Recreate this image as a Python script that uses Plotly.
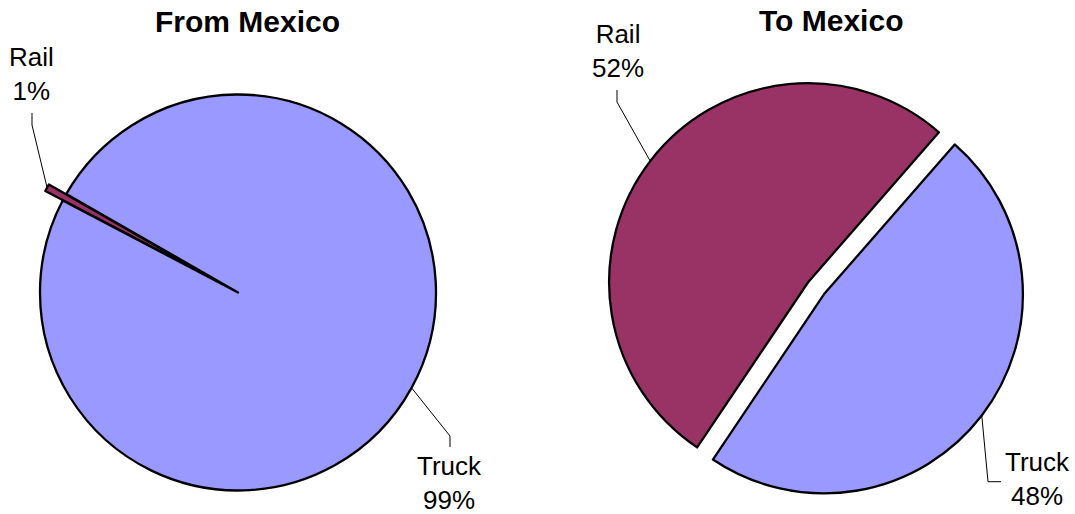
import math
import plotly.graph_objects as go

# ---- data ----
categories = ["Rail", "Truck"]
from_mexico = [0.6, 99.4]      # percent share
to_mexico = [52, 48]           # percent share
titles = ["From Mexico", "To Mexico"]

# ---- styling / layout constants ----
COLORS = ["#993366", "#9999FF"]
W, H = 1075, 514
FONT = "Liberation Sans, Arial, sans-serif"

PIES = [
    dict(values=from_mexico, title=titles[0], cx=238, cy=292.5, r=198,
         rotation=297.7, pull=[0.10, 0.0], title_xy=(247, 22),
         labels=[dict(text_xy=(31.5, 74), elbow=(32, 125), end=(32, 113)),
                 dict(text_xy=(449, 482.5), elbow=(450, 436), end=(450, 447))]),
    dict(values=to_mexico, title=titles[1], cx=816, cy=288.3, r=199,
         rotation=213.9, pull=[0.05, 0.05], title_xy=(830.5, 21),
         labels=[dict(text_xy=(617.5, 51), elbow=(617, 102), end=(617, 90)),
                 dict(text_xy=(1037.5, 479), elbow=(988, 481.7), end=(1001, 481.7))]),
]


def px2paper(x, y):
    return x / W, 1 - y / H


fig = go.Figure()
shapes = []
annotations = []

for p in PIES:
    vals = p["values"]
    total = sum(vals)
    maxpull = max(p["pull"])
    half = p["r"] * (1 + maxpull)
    x0, y1 = px2paper(p["cx"] - half, p["cy"] - half)
    x1, y0 = px2paper(p["cx"] + half, p["cy"] + half)
    fig.add_trace(go.Pie(
        labels=categories, values=vals, sort=False, direction="clockwise",
        rotation=p["rotation"], pull=p["pull"],
        marker=dict(colors=COLORS, line=dict(color="black", width=2.3)),
        textinfo="none", hoverinfo="label+percent", showlegend=False,
        domain=dict(x=[x0, x1], y=[y0, y1]),
    ))

    # title
    tx, ty = px2paper(*p["title_xy"])
    annotations.append(dict(x=tx, y=ty, xref="paper", yref="paper",
                            text=f"<b>{p['title']}</b>", showarrow=False,
                            xanchor="center", yanchor="middle",
                            font=dict(family=FONT, size=30, color="black")))

    # labels with leader lines anchored at slice mid-angle
    cum = 0.0
    for i, (cat, v) in enumerate(zip(categories, vals)):
        mid = p["rotation"] + 360.0 * (cum + v / 2) / total
        cum += v
        a = math.radians(mid)
        rr = p["r"] * (1 + p["pull"][i])
        axp = p["cx"] + rr * math.sin(a)
        ayp = p["cy"] - rr * math.cos(a)
        lab = p["labels"][i]
        pts = [px2paper(axp, ayp), px2paper(*lab["elbow"]), px2paper(*lab["end"])]
        path = "M " + " L ".join(f"{x:.5f},{y:.5f}" for x, y in pts)
        shapes.append(dict(type="path", path=path, xref="paper", yref="paper",
                           line=dict(color="black", width=1)))
        pct = 100.0 * v / total
        lx, ly = px2paper(*lab["text_xy"])
        annotations.append(dict(x=lx, y=ly, xref="paper", yref="paper",
                                text=f"{cat}<br>{pct:.0f}%", showarrow=False,
                                xanchor="center", yanchor="middle", align="center",
                                borderpad=0,
                                font=dict(family=FONT, size=26, color="black")))

fig.update_layout(
    width=W, height=H,
    margin=dict(l=0, r=0, t=0, b=0),
    paper_bgcolor="white", plot_bgcolor="white",
    showlegend=False,
    shapes=shapes, annotations=annotations,
)

fig.write_html("out.html")
